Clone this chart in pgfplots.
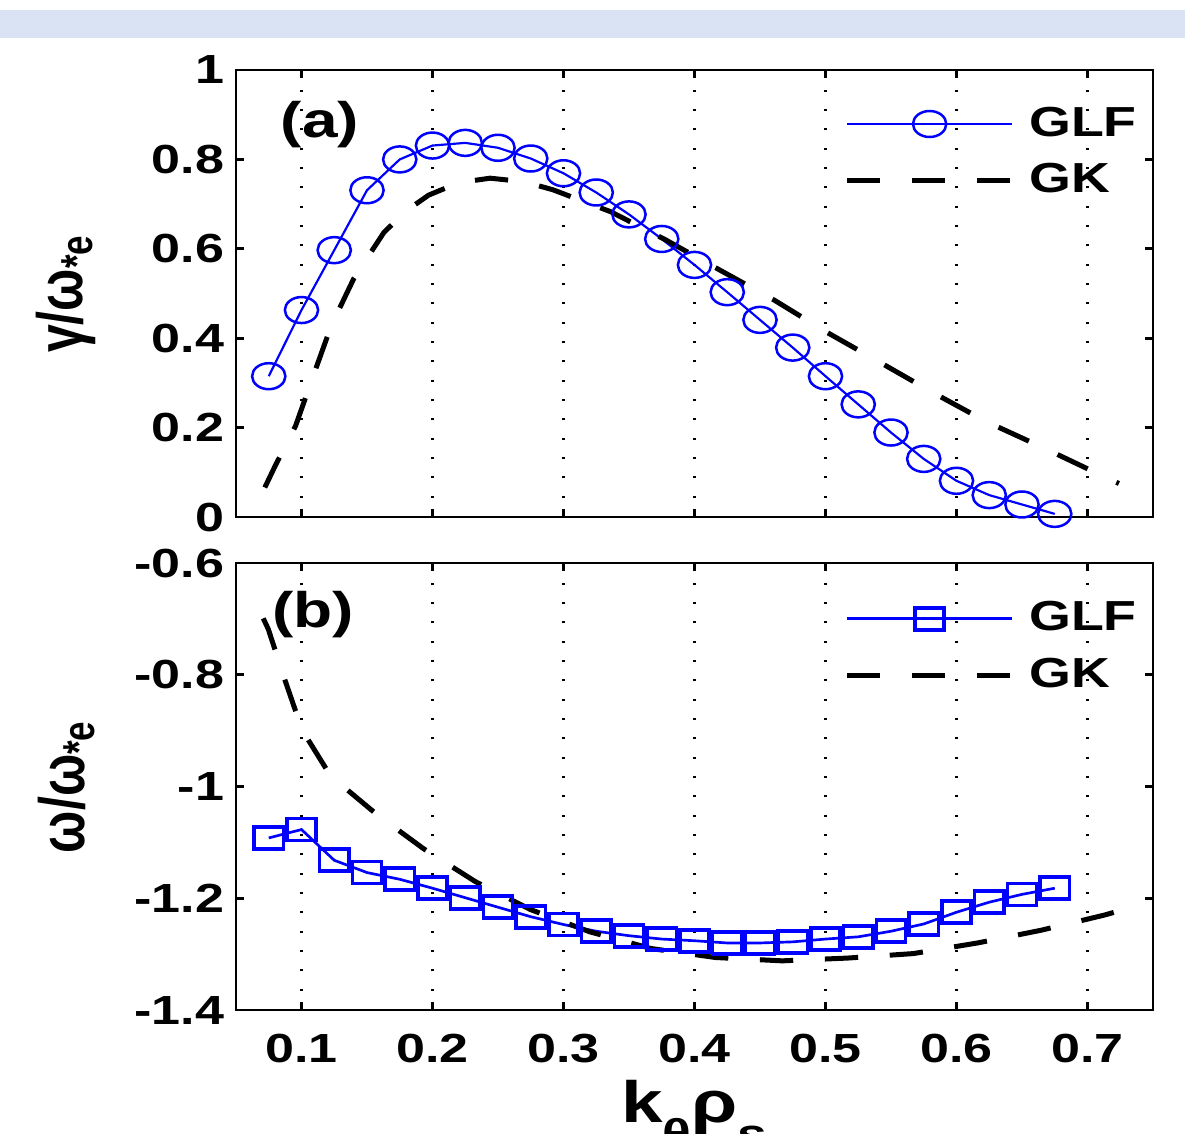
\documentclass[border=0pt]{standalone}
\usepackage{fontspec}
\setmainfont{Liberation Sans}[FakeStretch=1.28]
\newfontfamily\ylabfont{Liberation Sans}
\usepackage{graphicx}
\usepackage{pgfplots}
\pgfplotsset{compat=1.18}
\definecolor{band}{RGB}{218,227,243}

\pgfplotsset{
  panel/.style={
    scale only axis, width=275.1pt, height=134.1pt,
    xmin=0.05, xmax=0.75,
    xtick={0.1,0.2,0.3,0.4,0.5,0.6,0.7},
    tick align=inside, major tick length=2.5pt,
    axis line style={line width=0.8pt},
    every tick/.style={black, line width=0.8pt},
    xmajorgrids,
    major grid style={black, line width=0.65pt, dash pattern=on 0.65pt off 5.15pt},
    tick label style={font=\fontsize{12.2}{14}\selectfont\bfseries},
    xticklabel style={yshift=-3.6pt},
    legend style={draw=none, fill=none, anchor=north west, inner sep=0pt,
      row sep=2.6pt, column sep=2.4pt,
      font=\fontsize{12.6}{15}\selectfont\bfseries},
    legend cell align=left,
    legend image code/.code={\draw[mark repeat=2,mark phase=2]
      plot coordinates {(0pt,0pt)(24.75pt,0pt)(49.5pt,0pt)};},
    ylabel style={at={(axis description cs:-0.185,0.5)}, anchor=center},
  },
  glf/.style={blue, line width=0.65pt},
  gk/.style={black, line width=1.5pt, dash pattern=on 10pt off 9.5pt},
}

\begin{document}
\begin{tikzpicture}
\useasboundingbox (0,0) rectangle (355.5pt,-339.9pt);
\fill[band] (0,-3pt) rectangle (355.5pt,-11.4pt);

% (a) growth rate
\begin{axis}[panel, at={(70.8pt,-155.1pt)}, anchor=south west,
    ymin=0, ymax=1, ytick={0,0.2,0.4,0.6,0.8,1},
    yticklabels={0,0.2,0.4,0.6,0.8,1},
    xticklabels={},
    ylabel={\ylabfont\fontsize{15}{18}\selectfont\bfseries\scalebox{1}[1.28]{γ/ω\textsubscript{*e}}},
    legend style={at={(axis description cs:0.663,0.934)}}]
\addplot[glf, mark=o, mark size=3.9pt, mark options={xscale=1.28, line width=0.75pt}]
  coordinates {
  (0.075,0.315) (0.1,0.463) (0.125,0.597) (0.15,0.731) (0.175,0.800)
  (0.2,0.831) (0.225,0.837) (0.25,0.826) (0.275,0.802) (0.3,0.769)
  (0.325,0.726) (0.35,0.677) (0.375,0.622) (0.4,0.564) (0.425,0.503)
  (0.45,0.441) (0.475,0.379) (0.5,0.315) (0.525,0.252) (0.55,0.189)
  (0.575,0.130) (0.6,0.081) (0.625,0.049) (0.65,0.028) (0.675,0.007)};
\addlegendentry{GLF}
\addplot[gk] coordinates {
  (0.072,0.066) (0.080,0.115) (0.0955,0.204) (0.109,0.316) (0.1227,0.428)
  (0.140,0.534) (0.163,0.637) (0.180,0.685) (0.197,0.720) (0.220,0.748)
  (0.244,0.758) (0.270,0.750) (0.292,0.732) (0.336,0.683) (0.378,0.620)
  (0.419,0.553) (0.461,0.485) (0.500,0.415) (0.541,0.347) (0.581,0.280)
  (0.623,0.213) (0.667,0.154) (0.710,0.094) (0.724,0.075)};
\addlegendentry{GK}
\node[font=\fontsize{15}{18}\selectfont\bfseries] at (axis cs:0.114,0.877) {(a)};
\end{axis}

% (b) real frequency
\begin{axis}[panel, at={(70.8pt,-303pt)}, anchor=south west,
    ymin=-1.4, ymax=-0.6, ytick={-1.4,-1.2,-1,-0.8,-0.6},
    yticklabels={-1.4,-1.2,-1,-0.8,-0.6},
    xticklabels={0.1,0.2,0.3,0.4,0.5,0.6,0.7},
    ylabel={\ylabfont\fontsize{15}{18}\selectfont\bfseries\scalebox{1}[1.28]{ω/ω\textsubscript{*e}}},
    xlabel={\fontsize{17.5}{20}\selectfont\bfseries k\raisebox{-0.45em}{\fontsize{12.5}{14}\selectfont θ}ρ\raisebox{-0.45em}{\fontsize{12.5}{14}\selectfont s}},
    xlabel style={at={(axis description cs:0.5,-0.13)}, anchor=north},
    legend style={at={(axis description cs:0.663,0.93)}}]
\addplot[glf, line width=0.8pt, mark=square, mark size=3.3pt, mark options={xscale=1.33, line width=1.1pt}]
  coordinates {
  (0.075,-1.092) (0.1,-1.077) (0.125,-1.132) (0.15,-1.154) (0.175,-1.166)
  (0.2,-1.182) (0.225,-1.199) (0.25,-1.216) (0.275,-1.233) (0.3,-1.247)
  (0.325,-1.259) (0.35,-1.267) (0.375,-1.273) (0.4,-1.276) (0.425,-1.280)
  (0.45,-1.280) (0.475,-1.278) (0.5,-1.273) (0.525,-1.269) (0.55,-1.259)
  (0.575,-1.246) (0.6,-1.225) (0.625,-1.207) (0.65,-1.193) (0.675,-1.182)};
\addlegendentry{GLF}
\addplot[gk] coordinates {
  (0.0708,-0.699) (0.0746,-0.718) (0.0873,-0.809) (0.1005,-0.899)
  (0.1222,-0.981) (0.157,-1.049) (0.193,-1.111) (0.2326,-1.170)
  (0.2746,-1.220) (0.320,-1.260) (0.367,-1.290) (0.416,-1.306)
  (0.467,-1.312) (0.517,-1.307) (0.567,-1.299) (0.616,-1.280)
  (0.665,-1.257) (0.713,-1.230) (0.725,-1.222)};
\addlegendentry{GK}
\node[font=\fontsize{15}{18}\selectfont\bfseries] at (axis cs:0.1087,-0.693) {(b)};
\end{axis}
\end{tikzpicture}
\end{document}
